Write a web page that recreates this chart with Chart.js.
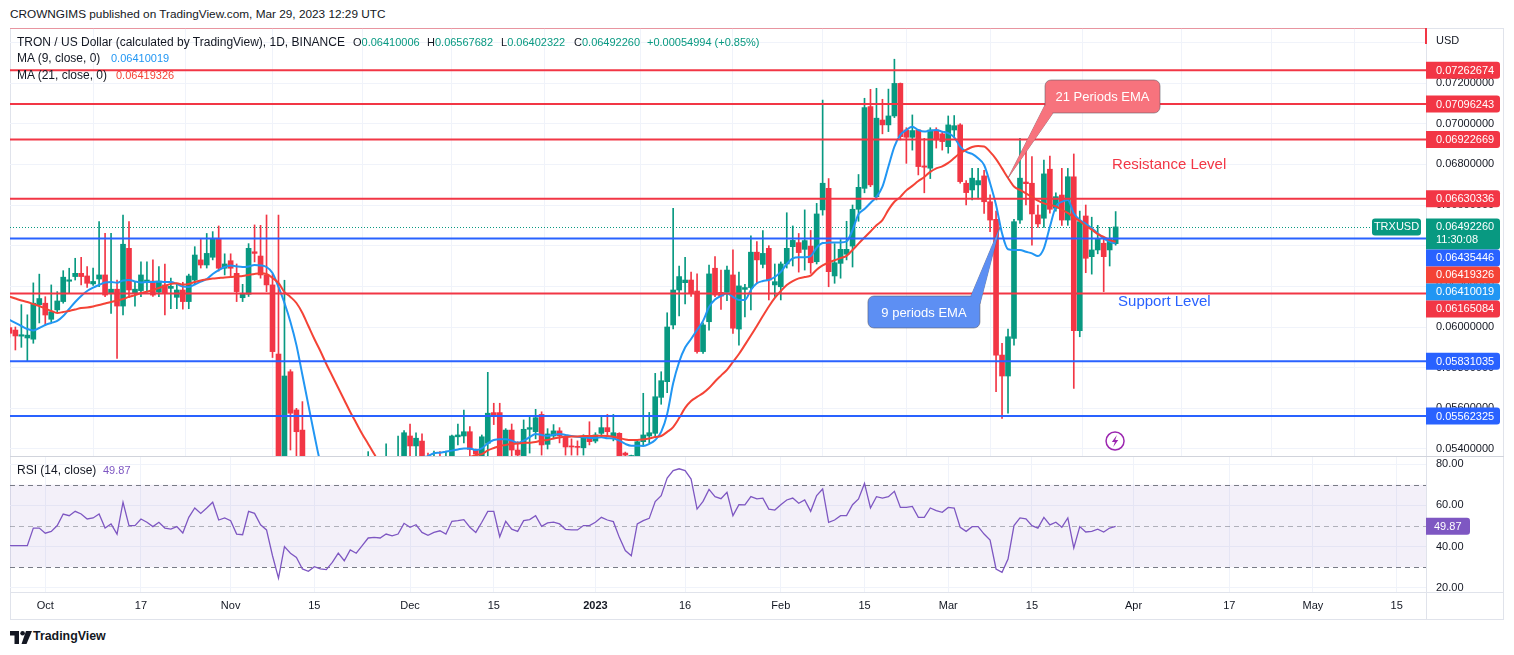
<!DOCTYPE html>
<html>
<head>
<meta charset="utf-8">
<script src="https://cdn.jsdelivr.net/npm/chart.js@4.4.0/dist/chart.umd.min.js"></script>
<style>
  html, body { margin: 0; padding: 0; background: #fff; }
  body { width: 1514px; height: 655px; position: relative; overflow: hidden;
         font-family: 'Liberation Sans', Arial, sans-serif; color: #131722; }
  .abs { position: absolute; white-space: nowrap; }
  .leg { font-size: 12px; line-height: 14px; }
  .num { font-size: 11px; line-height: 14px; }
  .g { color: #089981; }
  #frame { left: 10px; top: 28px; width: 1494px; height: 592px; border: 1px solid #e0e3eb; box-sizing: border-box; }
  #pricebox { left: 10px; top: 28px; width: 1494px; height: 428px; }
  #rsibox { left: 10px; top: 457px; width: 1494px; height: 163px; }
</style>
</head>
<body>
<div id="frame" class="abs"></div>
<div id="pricebox" class="abs"><canvas id="price"></canvas></div>
<div id="rsibox" class="abs"><canvas id="rsi"></canvas></div>
<div class="abs" style="left:10px;top:456px;width:1494px;height:1px;background:#d1d4dc"></div>
<div class="abs" style="left:10px;top:592px;width:1494px;height:1px;background:#e0e3eb"></div>
<div class="abs" style="left:1426px;top:592px;width:1px;height:28px;background:#e0e3eb"></div>

<div class="abs" style="left:10px;top:7px;font-size:11.8px;line-height:15px">CROWNGIMS published on TradingView.com, Mar 29, 2023 12:29 UTC</div>

<div class="abs leg" style="left:17px;top:35px">TRON / US Dollar (calculated by TradingView), 1D, BINANCE</div>
<div class="abs num" style="left:353px;top:35px">O<span class="g">0.06410006</span></div>
<div class="abs num" style="left:427px;top:35px">H<span class="g">0.06567682</span></div>
<div class="abs num" style="left:501px;top:35px">L<span class="g">0.06402322</span></div>
<div class="abs num" style="left:574px;top:35px">C<span class="g">0.06492260</span></div>
<div class="abs num g" style="left:647px;top:35px">+0.00054994 (+0.85%)</div>
<div class="abs leg" style="left:17px;top:51px">MA (9, close, 0)</div>
<div class="abs num" style="left:111px;top:51px;color:#2196f3">0.06410019</div>
<div class="abs leg" style="left:17px;top:68px">MA (21, close, 0)</div>
<div class="abs num" style="left:116px;top:68px;color:#f44336">0.06419326</div>
<div class="abs leg" style="left:17px;top:463px">RSI (14, close)</div>
<div class="abs num" style="left:103px;top:463px;color:#7e57c2">49.87</div>

<div class="abs" style="left:10px;top:630px">
  <svg width="22" height="13" viewBox="0 0 22 13">
    <path d="M0 0 H9 V13 H4.5 V4.5 H0 Z" fill="#131722"/>
    <circle cx="12.6" cy="2.3" r="2.3" fill="#131722"/>
    <path d="M16 0 H22 L16.5 13 H11.5 Z" fill="#131722"/>
  </svg>
</div>
<div class="abs" style="left:33px;top:629px;font-size:12.4px;font-weight:bold;line-height:15px">TradingView</div>

<script>
// first candle is Sep 25 2022, day numbers count from Oct 1 2022
const dayOffset = -6;

const opens = [
  0.05997, 0.05985, 0.05955, 0.05946, 0.05940, 0.06110,
  0.06117, 0.06038, 0.06084, 0.06125, 0.06225, 0.06248, 0.06264, 0.06251, 0.06212, 0.06236,
  0.06256, 0.06166, 0.06186, 0.06103, 0.06387, 0.06166, 0.06179, 0.06223, 0.06226, 0.06171,
  0.06207, 0.06190, 0.06146, 0.06182, 0.06125, 0.06231, 0.06330, 0.06305, 0.06343, 0.06431,
  0.06289, 0.06326, 0.06264, 0.06144, 0.06161, 0.06370, 0.06349, 0.06256, 0.06207, 0.05867,
  0.05280, 0.05780, 0.05592, 0.05493, 0.05300, 0.05160, 0.05220, 0.05200, 0.05180, 0.05130,
  0.05160, 0.05210, 0.05190, 0.05120, 0.05170, 0.05260, 0.05290, 0.05270, 0.05330, 0.05290,
  0.05350, 0.05464, 0.05415, 0.05439, 0.05340, 0.05330, 0.05360, 0.05350, 0.05360, 0.05460,
  0.05464, 0.05485, 0.05398, 0.05360, 0.05428, 0.05579, 0.05579, 0.05360, 0.05493, 0.05395,
  0.05360, 0.05497, 0.05485, 0.05570, 0.05423, 0.05464, 0.05489, 0.05460, 0.05415, 0.05412,
  0.05406, 0.05455, 0.05439, 0.05477, 0.05505, 0.05460, 0.05477, 0.05380, 0.05350, 0.05360,
  0.05436, 0.05464, 0.05477, 0.05654, 0.05731, 0.06010, 0.06182, 0.06218, 0.06231, 0.06177,
  0.05879, 0.06026, 0.06289, 0.06170, 0.06170, 0.06256, 0.05990, 0.06185, 0.06194, 0.06368,
  0.06308, 0.06387, 0.06207, 0.06198, 0.06310, 0.06395, 0.06415, 0.06382, 0.06398, 0.06321,
  0.06576, 0.06682, 0.06251, 0.06313, 0.06358, 0.06398, 0.06579, 0.06682, 0.07084, 0.06641,
  0.07018, 0.06994, 0.07038, 0.07198, 0.06969, 0.06933, 0.06969, 0.06792, 0.06781, 0.06969,
  0.06950, 0.06887, 0.06969, 0.06994, 0.06707, 0.06674, 0.06699, 0.06743, 0.06616, 0.06530,
  0.05862, 0.05759, 0.05944, 0.06526, 0.06713, 0.06707, 0.06551, 0.06535, 0.06776, 0.06584,
  0.06649, 0.06526, 0.06739, 0.05982, 0.06546, 0.06346, 0.06379, 0.06412, 0.06379, 0.06410006
];
const highs = [
  0.06015, 0.06000, 0.06110, 0.06060, 0.06217, 0.06260,
  0.06149, 0.06207, 0.06174, 0.06277, 0.06289, 0.06338, 0.06343, 0.06297, 0.06290, 0.06518,
  0.06461, 0.06461, 0.06231, 0.06551, 0.06518, 0.06223, 0.06321, 0.06320, 0.06330, 0.06297,
  0.06310, 0.06240, 0.06210, 0.06220, 0.06260, 0.06395, 0.06436, 0.06460, 0.06469, 0.06497,
  0.06360, 0.06360, 0.06310, 0.06210, 0.06410, 0.06502, 0.06500, 0.06551, 0.06260, 0.06550,
  0.06230, 0.05790, 0.05600, 0.05633, 0.05360, 0.05280, 0.05320, 0.05260, 0.05240, 0.05200,
  0.05250, 0.05290, 0.05240, 0.05200, 0.05387, 0.05340, 0.05350, 0.05425, 0.05360, 0.05464,
  0.05490, 0.05523, 0.05480, 0.05474, 0.05380, 0.05390, 0.05387, 0.05390, 0.05469, 0.05523,
  0.05592, 0.05510, 0.05400, 0.05469, 0.05777, 0.05625, 0.05625, 0.05500, 0.05523, 0.05436,
  0.05543, 0.05559, 0.05595, 0.05583, 0.05500, 0.05520, 0.05505, 0.05470, 0.05450, 0.05440,
  0.05470, 0.05534, 0.05480, 0.05559, 0.05570, 0.05570, 0.05480, 0.05385, 0.05370, 0.05440,
  0.05674, 0.05580, 0.05772, 0.05780, 0.06070, 0.06584, 0.06300, 0.06343, 0.06270, 0.06261,
  0.06020, 0.06305, 0.06346, 0.06280, 0.06300, 0.06379, 0.06270, 0.06210, 0.06448, 0.06420,
  0.06474, 0.06400, 0.06310, 0.06320, 0.06562, 0.06497, 0.06460, 0.06576, 0.06475, 0.06608,
  0.07116, 0.06730, 0.06410, 0.06430, 0.06520, 0.06600, 0.06750, 0.07125, 0.07169, 0.07174,
  0.07120, 0.07170, 0.07317, 0.07200, 0.06980, 0.07043, 0.06970, 0.06928, 0.06980, 0.06980,
  0.06960, 0.07038, 0.07040, 0.07000, 0.06720, 0.06780, 0.06780, 0.06770, 0.06650, 0.06570,
  0.05920, 0.05990, 0.06530, 0.06928, 0.06890, 0.06838, 0.06600, 0.06821, 0.06841, 0.06660,
  0.06780, 0.06780, 0.06851, 0.06570, 0.06600, 0.06540, 0.06500, 0.06440, 0.06490, 0.06567682
];
const lows = [
  0.05950, 0.05887, 0.05900, 0.05834, 0.05920, 0.06020,
  0.06010, 0.06026, 0.06075, 0.06117, 0.06167, 0.06231, 0.06207, 0.06195, 0.06205, 0.06198,
  0.06149, 0.06067, 0.05846, 0.06059, 0.06144, 0.06103, 0.06149, 0.06170, 0.06150, 0.06149,
  0.06059, 0.06090, 0.06090, 0.06088, 0.06090, 0.06210, 0.06290, 0.06290, 0.06330, 0.06275,
  0.06256, 0.06250, 0.06125, 0.06125, 0.06150, 0.06320, 0.06240, 0.06174, 0.05850, 0.05150,
  0.05200, 0.05395, 0.05320, 0.05250, 0.05100, 0.05080, 0.05150, 0.05120, 0.05090, 0.05050,
  0.05100, 0.05140, 0.05080, 0.05060, 0.05130, 0.05200, 0.05220, 0.05230, 0.05260, 0.05280,
  0.05320, 0.05360, 0.05360, 0.05300, 0.05290, 0.05300, 0.05310, 0.05300, 0.05330, 0.05420,
  0.05430, 0.05360, 0.05330, 0.05330, 0.05360, 0.05520, 0.05330, 0.05330, 0.05360, 0.05330,
  0.05330, 0.05380, 0.05450, 0.05370, 0.05400, 0.05450, 0.05430, 0.05370, 0.05370, 0.05370,
  0.05370, 0.05420, 0.05430, 0.05460, 0.05460, 0.05440, 0.05330, 0.05320, 0.05330, 0.05340,
  0.05420, 0.05430, 0.05460, 0.05620, 0.05677, 0.05990, 0.06054, 0.06113, 0.06150, 0.05871,
  0.05870, 0.05985, 0.06149, 0.06087, 0.06130, 0.05969, 0.05911, 0.06050, 0.06084, 0.06215,
  0.06290, 0.06133, 0.06150, 0.06133, 0.06290, 0.06300, 0.06270, 0.06280, 0.06264, 0.06310,
  0.06550, 0.06198, 0.06215, 0.06240, 0.06330, 0.06295, 0.06520, 0.06660, 0.06690, 0.06625,
  0.06950, 0.06961, 0.07030, 0.06920, 0.06805, 0.06870, 0.06748, 0.06660, 0.06730, 0.06880,
  0.06870, 0.06855, 0.06930, 0.06707, 0.06600, 0.06625, 0.06630, 0.06559, 0.06469, 0.05682,
  0.05551, 0.05576, 0.05911, 0.06510, 0.06600, 0.06403, 0.06490, 0.06490, 0.06560, 0.06570,
  0.06500, 0.06500, 0.05698, 0.05952, 0.06267, 0.06260, 0.06360, 0.06174, 0.06300, 0.06402322
];
const closes = [
  0.05969, 0.05956, 0.05962, 0.05960, 0.06117, 0.06140,
  0.06059, 0.06075, 0.06128, 0.06245, 0.06232, 0.06264, 0.06248, 0.06215, 0.06224, 0.06256,
  0.06157, 0.06186, 0.06103, 0.06407, 0.06182, 0.06186, 0.06256, 0.06231, 0.06157, 0.06226,
  0.06166, 0.06200, 0.06182, 0.06125, 0.06251, 0.06354, 0.06305, 0.06362, 0.06436, 0.06289,
  0.06310, 0.06289, 0.06174, 0.06161, 0.06387, 0.06362, 0.06256, 0.06207, 0.05879, 0.05260,
  0.05759, 0.05576, 0.05485, 0.05300, 0.05160, 0.05220, 0.05200, 0.05180, 0.05130, 0.05160,
  0.05210, 0.05190, 0.05120, 0.05170, 0.05260, 0.05290, 0.05270, 0.05330, 0.05310, 0.05350,
  0.05480, 0.05415, 0.05453, 0.05340, 0.05330, 0.05360, 0.05350, 0.05360, 0.05464, 0.05469,
  0.05485, 0.05398, 0.05375, 0.05460, 0.05576, 0.05568, 0.05360, 0.05493, 0.05395, 0.05370,
  0.05497, 0.05505, 0.05554, 0.05420, 0.05474, 0.05489, 0.05464, 0.05410, 0.05410, 0.05408,
  0.05453, 0.05436, 0.05469, 0.05505, 0.05485, 0.05480, 0.05360, 0.05370, 0.05368, 0.05436,
  0.05469, 0.05480, 0.05657, 0.05736, 0.06000, 0.06182, 0.06248, 0.06231, 0.06166, 0.05879,
  0.06010, 0.06261, 0.06157, 0.06152, 0.06280, 0.05994, 0.06202, 0.06194, 0.06368, 0.06330,
  0.06362, 0.06231, 0.06223, 0.06310, 0.06387, 0.06426, 0.06366, 0.06425, 0.06316, 0.06556,
  0.06707, 0.06272, 0.06316, 0.06382, 0.06382, 0.06579, 0.06687, 0.07079, 0.06699, 0.07027,
  0.06994, 0.07038, 0.07198, 0.06936, 0.06933, 0.06966, 0.06789, 0.06786, 0.06969, 0.06920,
  0.06912, 0.06994, 0.06990, 0.06715, 0.06661, 0.06732, 0.06720, 0.06616, 0.06526, 0.05862,
  0.05759, 0.05952, 0.06518, 0.06732, 0.06705, 0.06556, 0.06507, 0.06753, 0.06579, 0.06641,
  0.06526, 0.06739, 0.05982, 0.06518, 0.06338, 0.06379, 0.06436, 0.06346, 0.06436, 0.06492260
];
const ema9 = [
  0.06035, 0.06020, 0.06005, 0.05990, 0.05983, 0.05995,
  0.06010, 0.06020, 0.06030, 0.06054, 0.06089, 0.06123, 0.06153, 0.06177, 0.06194, 0.06207,
  0.06219, 0.06221, 0.06218, 0.06229, 0.06231, 0.06224, 0.06219, 0.06221, 0.06221, 0.06223,
  0.06221, 0.06221, 0.06212, 0.06199, 0.06197, 0.06209, 0.06223, 0.06236, 0.06261, 0.06280,
  0.06295, 0.06303, 0.06298, 0.06295, 0.06298, 0.06305, 0.06303, 0.06295, 0.06266, 0.06197,
  0.06118, 0.06025, 0.05911, 0.05764, 0.05616, 0.05469, 0.05336, 0.05290, 0.05255, 0.05230,
  0.05210, 0.05200, 0.05185, 0.05175, 0.05185, 0.05200, 0.05220, 0.05245, 0.05265, 0.05290,
  0.05320, 0.05340, 0.05355, 0.05360, 0.05365, 0.05379, 0.05382, 0.05387, 0.05392, 0.05398,
  0.05403, 0.05403, 0.05395, 0.05403, 0.05428, 0.05444, 0.05448, 0.05448, 0.05441, 0.05431,
  0.05441, 0.05458, 0.05474, 0.05469, 0.05464, 0.05470, 0.05474, 0.05469, 0.05464, 0.05460,
  0.05458, 0.05454, 0.05454, 0.05458, 0.05453, 0.05452, 0.05441, 0.05425, 0.05416, 0.05416,
  0.05415, 0.05425, 0.05444, 0.05484, 0.05572, 0.05723, 0.05828, 0.05899, 0.05941, 0.05985,
  0.06030, 0.06098, 0.06135, 0.06153, 0.06166, 0.06148, 0.06133, 0.06133, 0.06182, 0.06215,
  0.06226, 0.06231, 0.06246, 0.06271, 0.06310, 0.06337, 0.06343, 0.06343, 0.06349, 0.06390,
  0.06413, 0.06415, 0.06416, 0.06416, 0.06421, 0.06477, 0.06555, 0.06580, 0.06610, 0.06640,
  0.06690, 0.06789, 0.06887, 0.06945, 0.06969, 0.06985, 0.06969, 0.06961, 0.06966, 0.06969,
  0.06961, 0.06953, 0.06933, 0.06887, 0.06862, 0.06851, 0.06830, 0.06797, 0.06707, 0.06600,
  0.06461, 0.06382, 0.06379, 0.06379, 0.06370, 0.06362, 0.06349, 0.06387, 0.06493, 0.06592,
  0.06616, 0.06625, 0.06559, 0.06526, 0.06507, 0.06485, 0.06461, 0.06436, 0.06420, 0.06410019
];
const ema21 = [
  0.06150, 0.06140, 0.06130, 0.06123, 0.06113, 0.06103,
  0.06091, 0.06079, 0.06069, 0.06074, 0.06079, 0.06086, 0.06094, 0.06096, 0.06101, 0.06108,
  0.06116, 0.06123, 0.06130, 0.06138, 0.06148, 0.06157, 0.06167, 0.06174, 0.06182, 0.06192,
  0.06202, 0.06212, 0.06215, 0.06209, 0.06212, 0.06221, 0.06229, 0.06234, 0.06238, 0.06241,
  0.06244, 0.06246, 0.06249, 0.06251, 0.06256, 0.06261, 0.06264, 0.06261, 0.06241, 0.06217,
  0.06172, 0.06148, 0.06118, 0.06069, 0.06005, 0.05941, 0.05882, 0.05818, 0.05759, 0.05700,
  0.05641, 0.05582, 0.05528, 0.05474, 0.05425, 0.05375, 0.05331, 0.05310, 0.05295, 0.05285,
  0.05280, 0.05280, 0.05285, 0.05290, 0.05295, 0.05300, 0.05310, 0.05320, 0.05330, 0.05340,
  0.05350, 0.05360, 0.05370, 0.05375, 0.05393, 0.05405, 0.05415, 0.05420, 0.05425, 0.05427,
  0.05430, 0.05431, 0.05434, 0.05442, 0.05444, 0.05452, 0.05457, 0.05460, 0.05461, 0.05462,
  0.05464, 0.05464, 0.05465, 0.05465, 0.05464, 0.05460, 0.05454, 0.05447, 0.05444, 0.05444,
  0.05447, 0.05452, 0.05459, 0.05464, 0.05484, 0.05508, 0.05552, 0.05602, 0.05636, 0.05656,
  0.05675, 0.05700, 0.05732, 0.05761, 0.05789, 0.05828, 0.05867, 0.05912, 0.05958, 0.06005,
  0.06054, 0.06101, 0.06143, 0.06177, 0.06207, 0.06226, 0.06239, 0.06246, 0.06253, 0.06282,
  0.06303, 0.06317, 0.06328, 0.06339, 0.06350, 0.06379, 0.06410, 0.06440, 0.06470, 0.06500,
  0.06526, 0.06576, 0.06616, 0.06640, 0.06672, 0.06694, 0.06718, 0.06738, 0.06763, 0.06780,
  0.06790, 0.06807, 0.06831, 0.06856, 0.06871, 0.06885, 0.06890, 0.06888, 0.06861, 0.06826,
  0.06780, 0.06733, 0.06691, 0.06674, 0.06657, 0.06640, 0.06621, 0.06608, 0.06601, 0.06593,
  0.06576, 0.06561, 0.06539, 0.06521, 0.06497, 0.06479, 0.06457, 0.06443, 0.06428, 0.06419326
];
const rsi14 = [
  40.5, 40.5, 40.5, 40.5, 49.0, 49.0,
  46.5, 47.4, 50.2, 55.8, 55.0, 57.1, 55.8, 53.4, 53.9, 55.8,
  49.0, 51.0, 46.1, 61.5, 50.2, 50.2, 53.4, 51.8, 49.7, 51.8,
  49.0, 48.5, 49.7, 46.6, 54.2, 58.7, 56.1, 58.7, 61.5, 52.9,
  53.9, 52.6, 46.1, 45.8, 57.1, 56.1, 50.6, 48.1, 35.6, 24.8,
  40.0, 36.8, 34.8, 29.2, 28.1, 30.3, 29.2, 28.9, 32.4, 36.9,
  33.2, 38.4, 36.8, 40.5, 44.2, 44.5, 44.2, 46.1, 45.2, 46.1,
  51.3, 49.4, 50.6, 46.9, 45.5, 46.9, 47.7, 46.1, 52.3, 52.6,
  53.1, 49.4, 46.9, 51.8, 57.1, 57.1, 44.8, 52.3, 48.5, 47.4,
  52.6, 53.1, 55.0, 49.8, 51.5, 51.9, 51.0, 48.4, 48.1, 48.1,
  50.2, 50.2, 51.8, 54.2, 52.9, 52.1, 44.5, 38.1, 35.6, 51.0,
  52.6, 53.7, 61.8, 64.7, 73.2, 76.8, 77.7, 76.8, 72.7, 58.2,
  61.9, 67.7, 64.2, 63.2, 66.3, 55.0, 60.3, 60.2, 64.2, 63.1,
  63.5, 58.2, 57.7, 60.3, 62.6, 63.5, 61.0, 62.6, 57.1, 64.7,
  67.9, 51.8, 52.9, 55.0, 55.0, 60.3, 63.1, 70.6, 58.7, 64.2,
  63.5, 64.2, 66.8, 59.0, 59.0, 59.5, 54.2, 54.2, 58.7, 57.4,
  56.6, 59.0, 58.7, 49.4, 47.4, 49.7, 49.7, 46.1, 43.2, 29.2,
  27.6, 34.0, 50.2, 53.9, 53.5, 50.2, 49.0, 54.2, 50.5, 51.8,
  49.4, 53.9, 39.4, 49.7, 47.1, 47.4, 48.5, 47.1, 49.0, 49.87
];

const resistanceLevels = [0.07262674, 0.07096243, 0.06922669, 0.06630336, 0.06165084];
const supportLevels = [0.06435446, 0.05831035, 0.05562325];
const lastPrice = 0.06492260;
const countdown = '11:30:08';

const priceTicks = [0.054, 0.056, 0.058, 0.060, 0.062, 0.064, 0.066, 0.068, 0.070, 0.072, 0.074];
const rsiTicks = [20, 40, 60, 80];
const rsiBand = [30, 50, 70];
const tickDays = [0, 16, 31, 45, 61, 75, 92, 107, 123, 137, 151, 165, 182, 198, 212, 226];
const tickLabels = ['Oct', '17', 'Nov', '15', 'Dec', '15', '2023', '16', 'Feb', '15', 'Mar', '15', 'Apr', '17', 'May', '15'];

// visible windows
const X_MIN = -5.9, X_MAX = 230.9;
const P_MIN = 0.0536557, P_MAX = 0.0747053;
const R_MIN = 18.06, R_MAX = 83.39;

const GREEN = '#089981', RED = '#f23645', BLUE = '#2962ff';
const GRID = '#f0f3fa', TEXT = '#131722';
const FONT = "'Liberation Sans', Arial, sans-serif";

const days = opens.map((_, i) => i + dayOffset);
const candleColors = closes.map((c, i) => c >= opens[i] ? GREEN : RED);

const callouts = [
  { text: '21 Periods EMA', day: 161.0, price: 0.067328, fill: '#f7737d', dx: 37, dy: -98, w: 115, h: 33, base: [[0, 25], [8, 33]] },
  { text: '9 periods EMA', day: 159.65, price: 0.064918, fill: '#5d8ff3', dx: -132, dy: 69, w: 112, h: 32, base: [[103, 0], [112, 8]] }
];
const notes = [
  { text: 'Resistance Level', day: 178.4, price: 0.067967, color: RED },
  { text: 'Support Level', day: 179.4, price: 0.061230, color: BLUE }
];
const flash = { day: 178.9, price: 0.054393 };

Chart.defaults.font.family = FONT;
Chart.defaults.color = TEXT;

function levelSet(list, color) {
  return list.map(p => ({
    type: 'line', data: [{ x: X_MIN, y: p }, { x: X_MAX, y: p }],
    borderColor: color, borderWidth: 2, pointRadius: 0, order: 1
  }));
}

const priceOverlay = {
  id: 'priceOverlay',
  beforeDatasetsDraw(chart) {
    const { ctx, chartArea: a, scales: { y } } = chart;
    const py = Math.round(y.getPixelForValue(lastPrice)) + 0.5;
    ctx.save();
    ctx.strokeStyle = GREEN;
    ctx.lineWidth = 1;
    ctx.setLineDash([1, 2]);
    ctx.beginPath();
    ctx.moveTo(a.left, py);
    ctx.lineTo(a.right - 54, py);
    ctx.stroke();
    ctx.restore();
  },
  afterDraw(chart) {
    const { ctx, chartArea: a, scales: { x, y } } = chart;
    ctx.save();

    // faint drawing line at the very top and its clipped label
    ctx.fillStyle = 'rgba(242,54,69,0.45)';
    ctx.fillRect(a.left, a.top, a.right - a.left, 1);
    ctx.fillStyle = RED;
    ctx.fillRect(a.right - 1, a.top, 2, 16);

    ctx.font = '11px ' + FONT;
    ctx.fillStyle = TEXT;
    ctx.textBaseline = 'middle';
    ctx.fillText('USD', a.right + 10, a.top + 13);

    // right axis price labels, pushed down when they overlap
    const labels = [
      ...resistanceLevels.map(v => ({ v, bg: RED })),
      ...supportLevels.map(v => ({ v, bg: BLUE })),
      { v: ema9[ema9.length - 1], bg: '#2196f3' },
      { v: ema21[ema21.length - 1], bg: '#f44336' },
      { v: lastPrice, bg: GREEN, extra: countdown }
    ].sort((p, q) => q.v - p.v);
    let prevBottom = -Infinity;
    for (const l of labels) {
      let cy = y.getPixelForValue(l.v);
      const up = 8.5, down = l.extra ? 22.5 : 8.5;
      if (cy - up < prevBottom) cy = prevBottom + up;
      ctx.fillStyle = l.bg;
      ctx.beginPath();
      ctx.roundRect(a.right, cy - up, 74, up + down, [0, 3, 3, 0]);
      ctx.fill();
      ctx.fillStyle = '#fff';
      ctx.font = '11px ' + FONT;
      ctx.fillText(l.v.toFixed(8), a.right + 10, cy + 0.5);
      if (l.extra) {
        ctx.fillText(l.extra, a.right + 10, cy + 13.5);
        ctx.fillStyle = GREEN;
        ctx.beginPath();
        ctx.roundRect(a.right - 54, cy - up, 49, 17, 3);
        ctx.fill();
        ctx.fillStyle = '#fff';
        ctx.textAlign = 'center';
        ctx.fillText('TRXUSD', a.right - 29.5, cy + 0.5);
        ctx.textAlign = 'left';
      }
      prevBottom = cy + down;
    }

    // callouts
    for (const c of callouts) {
      const tx = x.getPixelForValue(c.day), ty = y.getPixelForValue(c.price);
      const bx = tx + c.dx, by = ty + c.dy;
      ctx.fillStyle = c.fill;
      ctx.strokeStyle = 'rgba(90,90,100,0.55)';
      ctx.lineWidth = 1;
      ctx.beginPath();
      ctx.moveTo(bx + c.base[0][0], by + c.base[0][1]);
      ctx.lineTo(tx, ty);
      ctx.lineTo(bx + c.base[1][0], by + c.base[1][1]);
      ctx.closePath();
      ctx.fill();
      ctx.stroke();
      ctx.beginPath();
      ctx.roundRect(bx, by, c.w, c.h, 6);
      ctx.fill();
      ctx.stroke();
      ctx.beginPath();
      ctx.moveTo(bx + c.base[0][0], by + c.base[0][1]);
      ctx.lineTo(tx, ty);
      ctx.lineTo(bx + c.base[1][0], by + c.base[1][1]);
      ctx.fill();
      ctx.fillStyle = '#fff';
      ctx.font = '13px ' + FONT;
      ctx.textAlign = 'center';
      ctx.fillText(c.text, bx + c.w / 2, by + c.h / 2 + 1);
      ctx.textAlign = 'left';
    }

    for (const n of notes) {
      ctx.fillStyle = n.color;
      ctx.font = '15px ' + FONT;
      ctx.fillText(n.text, x.getPixelForValue(n.day), y.getPixelForValue(n.price));
    }

    // alert icon
    const fx = x.getPixelForValue(flash.day), fy = y.getPixelForValue(flash.price);
    ctx.strokeStyle = '#9c27b0';
    ctx.fillStyle = '#9c27b0';
    ctx.lineWidth = 1.5;
    ctx.beginPath();
    ctx.arc(fx, fy, 9, 0, Math.PI * 2);
    ctx.stroke();
    ctx.beginPath();
    ctx.moveTo(fx + 1.8, fy - 6);
    ctx.lineTo(fx - 3.2, fy + 1);
    ctx.lineTo(fx - 0.2, fy + 1);
    ctx.lineTo(fx - 1.8, fy + 6);
    ctx.lineTo(fx + 3.2, fy - 1);
    ctx.lineTo(fx + 0.2, fy - 1);
    ctx.closePath();
    ctx.fill();
    ctx.restore();
  }
};

new Chart(document.getElementById('price'), {
  type: 'bar',
  data: {
    datasets: [
      {
        type: 'bar', data: days.map((d, i) => ({ x: d, y: [lows[i], highs[i]] })),
        backgroundColor: candleColors, barThickness: 1, grouped: false, order: 4
      },
      {
        type: 'bar', data: days.map((d, i) => ({ x: d, y: [opens[i], closes[i]] })),
        backgroundColor: candleColors, barThickness: 5, minBarLength: 1, grouped: false, order: 3
      },
      {
        type: 'line', data: days.map((d, i) => ({ x: d, y: ema21[i] })),
        borderColor: '#f44336', borderWidth: 2, pointRadius: 0, cubicInterpolationMode: 'monotone', order: 2
      },
      {
        type: 'line', data: days.map((d, i) => ({ x: d, y: ema9[i] })),
        borderColor: '#2196f3', borderWidth: 2, pointRadius: 0, cubicInterpolationMode: 'monotone', order: 2
      },
      ...levelSet(resistanceLevels, RED),
      ...levelSet(supportLevels, BLUE)
    ]
  },
  options: {
    responsive: true,
    maintainAspectRatio: false,
    animation: false,
    layout: { padding: 0 },
    plugins: { legend: { display: false }, tooltip: { enabled: false } },
    scales: {
      x: {
        type: 'linear', min: X_MIN, max: X_MAX, offset: false,
        grid: { color: GRID, drawTicks: false },
        border: { display: false },
        ticks: { display: false },
        afterBuildTicks: s => { s.ticks = tickDays.map(v => ({ value: v })); },
        afterFit: s => { s.height = 0; s.paddingLeft = 0; s.paddingRight = 0; }
      },
      y: {
        position: 'right', min: P_MIN, max: P_MAX,
        grid: { color: GRID, drawTicks: false },
        border: { color: '#e0e3eb' },
        ticks: {
          padding: 10, color: TEXT, font: { size: 11 },
          callback: v => v > 0.073 ? '' : v.toFixed(8)
        },
        afterBuildTicks: s => { s.ticks = priceTicks.map(v => ({ value: v })); },
        afterFit: s => { s.width = 78; s.paddingTop = 0; s.paddingBottom = 0; }
      }
    }
  },
  plugins: [priceOverlay]
});

const rsiOverlay = {
  id: 'rsiOverlay',
  beforeDatasetsDraw(chart) {
    const { ctx, chartArea: a, scales: { y } } = chart;
    const top = y.getPixelForValue(rsiBand[2]), bottom = y.getPixelForValue(rsiBand[0]);
    ctx.save();
    ctx.fillStyle = 'rgba(126,87,194,0.09)';
    ctx.fillRect(a.left, top, a.right - a.left, bottom - top);
    ctx.lineWidth = 1;
    ctx.setLineDash([5, 4]);
    rsiBand.forEach((v, i) => {
      const py = Math.round(y.getPixelForValue(v)) + 0.5;
      ctx.strokeStyle = i === 1 ? 'rgba(120,123,134,0.55)' : '#787b86';
      ctx.beginPath();
      ctx.moveTo(a.left, py);
      ctx.lineTo(a.right, py);
      ctx.stroke();
    });
    ctx.restore();
  },
  afterDraw(chart) {
    const { ctx, chartArea: a, scales: { y } } = chart;
    const v = rsi14[rsi14.length - 1];
    const cy = y.getPixelForValue(v);
    ctx.save();
    ctx.fillStyle = '#7e57c2';
    ctx.beginPath();
    ctx.roundRect(a.right, cy - 8.5, 44, 17, [0, 3, 3, 0]);
    ctx.fill();
    ctx.fillStyle = '#fff';
    ctx.font = '11px ' + FONT;
    ctx.textBaseline = 'middle';
    ctx.fillText(v.toFixed(2), a.right + 8, cy + 0.5);
    ctx.restore();
  }
};

new Chart(document.getElementById('rsi'), {
  type: 'line',
  data: {
    datasets: [{
      data: days.map((d, i) => ({ x: d, y: rsi14[i] })),
      borderColor: '#7e57c2', borderWidth: 1.3, pointRadius: 0
    }]
  },
  options: {
    responsive: true,
    maintainAspectRatio: false,
    animation: false,
    layout: { padding: 0 },
    plugins: { legend: { display: false }, tooltip: { enabled: false } },
    scales: {
      x: {
        type: 'linear', min: X_MIN, max: X_MAX, offset: false,
        grid: { color: GRID, drawTicks: false },
        border: { display: false },
        ticks: {
          padding: 7, color: TEXT, autoSkip: false, maxRotation: 0,
          font: c => ({ size: 11, weight: tickLabels[c.index] === '2023' ? 'bold' : 'normal' }),
          callback: v => tickLabels[tickDays.indexOf(v)]
        },
        afterBuildTicks: s => { s.ticks = tickDays.map(v => ({ value: v })); },
        afterFit: s => { s.height = 28; s.paddingLeft = 0; s.paddingRight = 0; }
      },
      y: {
        position: 'right', min: R_MIN, max: R_MAX,
        grid: { color: GRID, drawTicks: false },
        border: { color: '#e0e3eb' },
        ticks: { padding: 10, color: TEXT, font: { size: 11 }, callback: v => v.toFixed(2) },
        afterBuildTicks: s => { s.ticks = rsiTicks.map(v => ({ value: v })); },
        afterFit: s => { s.width = 78; s.paddingTop = 0; s.paddingBottom = 0; }
      }
    }
  },
  plugins: [rsiOverlay]
});
</script>
</body>
</html>
